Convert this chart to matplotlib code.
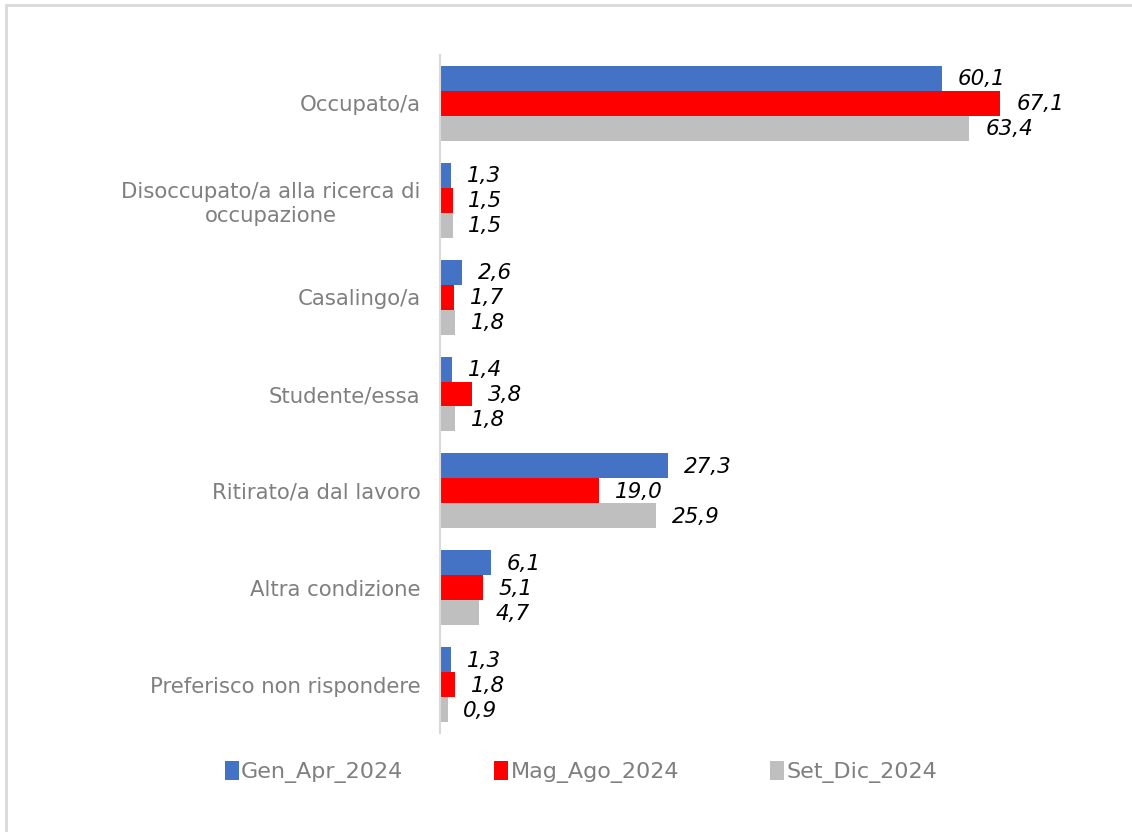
import numpy as np
import matplotlib.pyplot as plt
from matplotlib.patches import Rectangle

# ==============================
# DATA
# ==============================
categories = [
    "Occupato/a",
    "Disoccupato/a alla ricerca di\noccupazione",
    "Casalingo/a",
    "Studente/essa",
    "Ritirato/a dal lavoro",
    "Altra condizione",
    "Preferisco non rispondere",
]
series_names = ["Gen_Apr_2024", "Mag_Ago_2024", "Set_Dic_2024"]
gen_apr = [60.1, 1.3, 2.6, 1.4, 27.3, 6.1, 1.3]
mag_ago = [67.1, 1.5, 1.7, 3.8, 19.0, 5.1, 1.8]
set_dic = [63.4, 1.5, 1.8, 1.8, 25.9, 4.7, 0.9]

colors = ["#4472C4", "#FF0000", "#BFBFBF"]

# ==============================
# PLOT
# ==============================
fig = plt.figure(figsize=(11.32, 8.32), dpi=100)
ax = fig.add_axes([440 / 1132, 99 / 832, 680 / 1132, 678 / 832])

y = np.arange(len(categories))
bar_h = 0.258

for k, (vals, name, col) in enumerate(zip([gen_apr, mag_ago, set_dic], series_names, colors)):
    pos = y + (k - 1) * bar_h
    ax.barh(pos, vals, height=bar_h, color=col, label=name)
    for p, v in zip(pos, vals):
        ax.text(v + 1.9, p + 0.01, f"{v:.1f}".replace(".", ","), va="center", ha="left",
                fontsize=15.5, style="italic", color="black")

ax.set_xlim(0, 680 / 8.35)
ax.set_ylim(len(categories) - 0.5, -0.5)
ax.set_yticks(y)
ax.set_yticklabels(categories, fontsize=15.3, color="#7F7F7F", ha="right",
                   multialignment="center", linespacing=1.25)
ax.tick_params(axis="y", length=0, pad=14)
ax.set_xticks([])

for s in ["top", "right", "bottom"]:
    ax.spines[s].set_visible(False)
ax.spines["left"].set_color("#D9D9D9")
ax.spines["left"].set_linewidth(1.5)

leg = fig.legend(loc="center", bbox_to_anchor=(581 / 1132, 1 - 772 / 832), ncol=3,
                 frameon=False, fontsize=16, handlelength=0.63, handleheight=0.9,
                 handletextpad=0.1, columnspacing=4.1)
for t in leg.get_texts():
    t.set_color("#7F7F7F")

# outer frame
fig.patches.append(Rectangle((6 / 1132, -0.01), 1.02, 1 - 5 / 832 + 0.01,
                             transform=fig.transFigure, fill=False,
                             edgecolor="#D9D9D9", linewidth=2))

fig.savefig("out.png", dpi=100)
